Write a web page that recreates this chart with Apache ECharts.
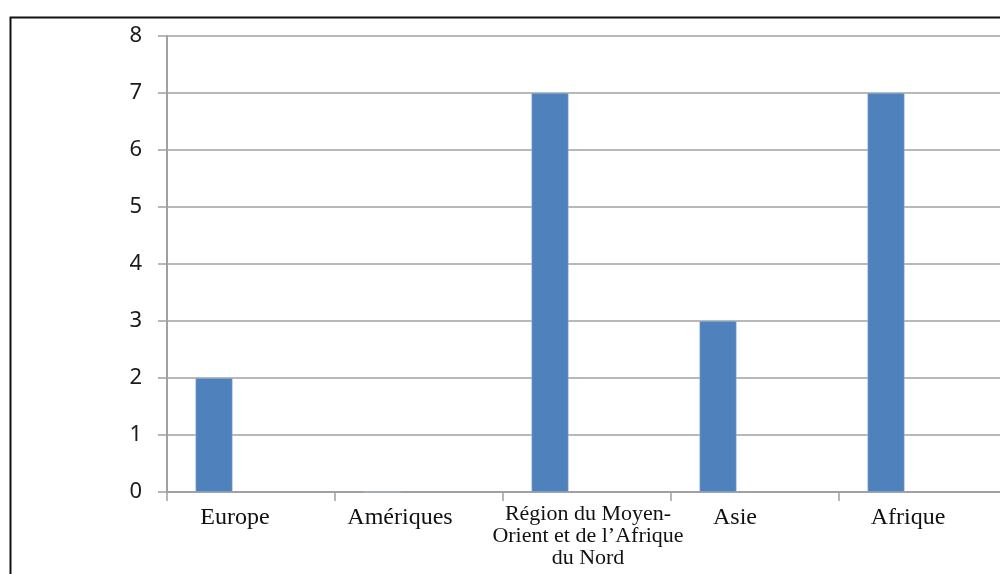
<!DOCTYPE html>
<html>
<head>
<meta charset="utf-8">
<script src="https://cdn.jsdelivr.net/npm/echarts@6/dist/echarts.min.js"></script>
<style>
html,body{margin:0;padding:0;background:#fff;overflow:hidden;width:1000px;height:574px;}
#chart{width:1010px;height:574px;}
</style>
</head>
<body>
<div id="chart"></div>
<script>
var categories = ['Europe', 'Amériques', 'Région du Moyen-\nOrient et de l\u2019Afrique\ndu Nord', 'Asie', 'Afrique'];
var seriesA = [2, 0, 7, 3, 7];
var seriesB = [null, null, null, null, null];
var seriesC = [null, null, null, null, null];
var yTicks = [0, 1, 2, 3, 4, 5, 6, 7, 8];

// label nudges to mimic the reference placement
var labelStyles = [
  {padding: [4, 32, 0, 0], fontSize: 24},
  {padding: [4, 38, 0, 0], fontSize: 24},
  {padding: [0, 0, 0, 2], fontSize: 22},
  {padding: [4, 40, 0, 0], fontSize: 24},
  {padding: [4, 30, 0, 0], fontSize: 24}
];

var chart = echarts.init(document.getElementById('chart'));
var barStyle = {color: '#4f81bd', borderColor: '#a9c0df', borderWidth: 0.5};
chart.setOption({
  animation: false,
  grid: {left: 167, top: 36, right: 3, bottom: 82, containLabel: false},
  graphic: [{
    type: 'rect', left: 8, top: 15, z: 100,
    shape: {x: 0, y: 0, width: 1010, height: 600},
    style: {fill: 'none', stroke: '#111', lineWidth: 2}
  }],
  xAxis: {
    type: 'category',
    data: categories.map(function (c, i) {
      return {value: c, textStyle: labelStyles[i]};
    }),
    axisLine: {show: true, lineStyle: {color: '#a0a0a0', width: 2}},
    axisTick: {show: true, length: 9, alignWithLabel: false, lineStyle: {color: '#a0a0a0', width: 1.5}},
    axisLabel: {
      interval: 0, margin: 11, fontFamily: 'Liberation Serif', fontSize: 22,
      lineHeight: 22, color: '#111', align: 'center', verticalAlign: 'top'
    },
    splitLine: {show: false}
  },
  yAxis: {
    type: 'value', min: yTicks[0], max: yTicks[yTicks.length - 1], interval: 1,
    axisLine: {show: true, lineStyle: {color: '#a0a0a0', width: 2}},
    axisTick: {show: true, length: 9, lineStyle: {color: '#a0a0a0', width: 1.5}},
    axisLabel: {margin: 25, fontFamily: 'Noto Sans', fontSize: 22, color: '#1a1a1a'},
    splitLine: {show: true, lineStyle: {color: '#a0a0a0', width: 1.5}}
  },
  series: [
    {type: 'bar', data: seriesA, barWidth: 37, barGap: '0%', itemStyle: barStyle},
    {type: 'bar', data: seriesB, barWidth: 37, barGap: '0%', itemStyle: barStyle},
    {type: 'bar', data: seriesC, barWidth: 37, barGap: '0%', itemStyle: barStyle}
  ]
});
</script>
</body>
</html>
